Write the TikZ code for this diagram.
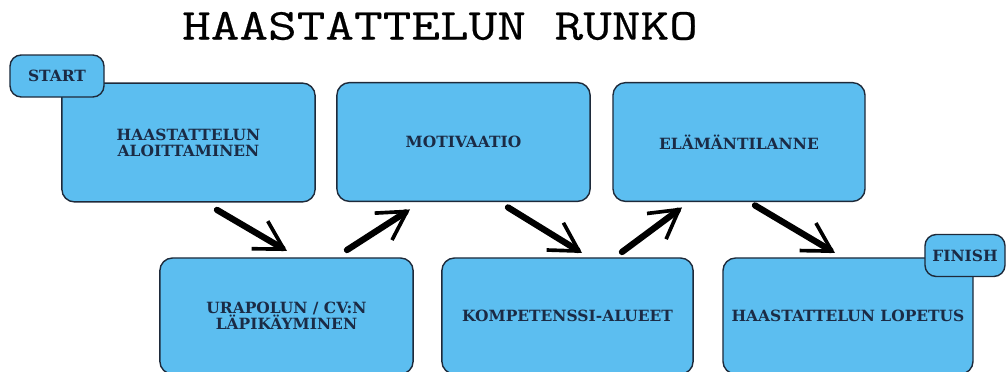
\documentclass[tikz,border=0pt]{standalone}
\usepackage{fontspec}
\usepackage{tikz}
\usetikzlibrary{calc,positioning,arrows.meta}

\newfontfamily\boxfont{DejaVu Serif}
\newfontfamily\titlefont[FakeStretch=1.26,FakeBold=0.5]{Latin Modern Mono}
\definecolor{boxblue}{RGB}{92,190,240}
\definecolor{boxline}{RGB}{30,42,58}
\definecolor{boxtext}{RGB}{27,43,69}

\begin{document}
\begin{tikzpicture}[x=0.025cm,y=-0.025cm,
    box/.style={draw=boxline,fill=boxblue,line width=1pt,rounded corners=9pt,
        text=boxtext,align=center,outer sep=0pt,minimum width=6.33cm,
        font=\boxfont\bfseries\fontsize{11}{11.5}\selectfont},
    tag/.style={box,rounded corners=8pt,minimum height=1.05cm},
    brush/.style={line width=4.5pt,line cap=round,
        -{Straight Barb[length=0.7cm,width=0.8cm,line width=2.6pt]}}]
    \clip (0,0) rectangle (1008,371);
    \node[font=\titlefont\fontsize{31.4}{34}\selectfont] (otsikko) at (440,26) {HAASTATTELUN RUNKO};
    %
    \node[box,minimum height=2.97cm] (aloitus) at (188.5,142.5) {HAASTATTELUN\\ALOITTAMINEN};
    \node[box,minimum height=2.97cm] (motivaatio) at (463.5,142) {MOTIVAATIO};
    \node[box,minimum height=2.97cm,minimum width=6.3cm] (elama) at (739,142) {ELÄMÄNTILANNE};
    \node[box,minimum height=2.9cm] (urapolku) at (286.5,316) {URAPOLUN / CV:N\\LÄPIKÄYMINEN};
    \node[box,minimum height=2.9cm,minimum width=6.28cm] (kompetenssi) at (567.5,316) {KOMPETENSSI-ALUEET};
    \node[box,minimum height=2.9cm,minimum width=6.25cm] (lopetus) at (848,316) {HAASTATTELUN LOPETUS};
    %
    \node[tag,minimum width=2.35cm] (start) at (57,76) {START};
    \node[tag,minimum width=2cm] (finish) at (965,255.5) {FINISH};
    %
    \draw[brush] ($(aloitus.south)+(28.5,8)$) -- ($(urapolku.north)+(0.5,-7)$);
    \draw[brush] ($(urapolku.north)+(60.5,-8)$) -- ($(motivaatio.south)+(-53.5,8)$);
    \draw[brush] ($(motivaatio.south)+(44.5,6)$) -- ($(kompetenssi.north)+(14.5,-5)$);
    \draw[brush] ($(kompetenssi.north)+(54.5,-6)$) -- ($(elama.south)+(-57,6)$);
    \draw[brush] ($(elama.south)+(16,4)$) -- ($(lopetus.north)+(-13,-5)$);
\end{tikzpicture}
\end{document}
